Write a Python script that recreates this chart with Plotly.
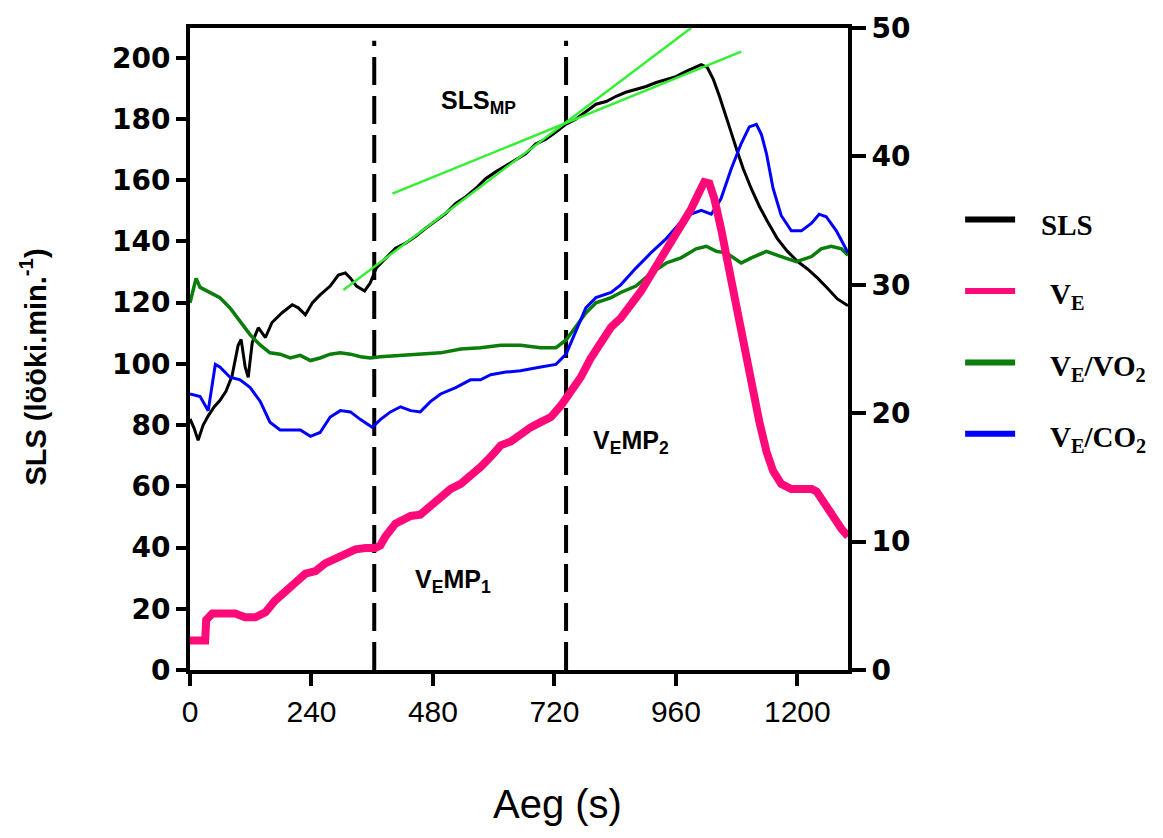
import plotly.graph_objects as go

# ---------------- data ----------------
sls_t = [0, 8, 16, 26, 36, 48, 59, 71, 83, 95, 101, 109, 115, 123, 135, 149, 162, 182, 202, 214,
         228, 242, 257, 277, 293, 307, 317, 329, 345, 356, 368, 386, 406, 426, 446, 465, 485, 505,
         525, 545, 564, 584, 604, 624, 644, 663, 683, 703, 723, 743, 762, 782, 802, 822, 842, 861,
         881, 901, 921, 941, 960, 980, 996, 1010, 1022, 1034, 1046, 1057, 1069, 1081, 1093, 1109,
         1125, 1141, 1160, 1180, 1200, 1220, 1240, 1259, 1279, 1300]
sls_v = [82, 79, 75, 80, 83, 86, 88, 91, 96, 106, 108, 99, 95.6, 107, 111.8, 108.6, 113.5, 116.7,
         119.3, 118.3, 116, 120, 122.5, 125.4, 129, 129.7, 128, 125.4, 123.8, 126.4, 131.3, 134.5,
         137.8, 139.4, 141.7, 144.2, 146.5, 149.1, 152.4, 154.6, 157.2, 160.5, 162.7, 164.7, 166.6,
         168.6, 171.8, 173.4, 175.7, 178.3, 179.9, 182.2, 184.8, 185.7, 187.4, 188.7, 189.6, 190.6,
         191.9, 192.9, 193.8, 195.5, 196.8, 197.7, 196.8, 192.9, 187.4, 181.5, 175.7, 169.5, 163.7,
         157.2, 151.4, 146.5, 141, 136.8, 133.5, 131, 128, 124.8, 121.2, 119]

ve_t = [0, 30, 32, 44, 89, 109, 129, 149, 168, 188, 208, 228, 248, 267, 287, 307, 327, 347, 366,
        376, 386, 406, 436, 455, 475, 495, 515, 535, 554, 574, 594, 614, 634, 653, 673, 693, 713,
        733, 752, 772, 792, 812, 832, 851, 871, 891, 911, 931, 950, 970, 990, 1006, 1016, 1026,
        1036, 1049, 1065, 1079, 1093, 1109, 1125, 1139, 1152, 1168, 1188, 1208, 1228, 1238, 1251,
        1267, 1287, 1300]
ve_v = [2.3, 2.3, 3.9, 4.4, 4.4, 4.1, 4.1, 4.5, 5.4, 6.2, 6.8, 7.5, 7.7, 8.3, 8.7, 9.0, 9.4, 9.5,
        9.5, 9.7, 10.4, 11.4, 12.0, 12.1, 12.8, 13.5, 14.1, 14.5, 15.1, 15.8, 16.6, 17.5, 17.8, 18.4,
        18.9, 19.3, 19.7, 20.6, 21.6, 22.8, 24.3, 25.5, 26.7, 27.4, 28.4, 29.5, 30.8, 32.1, 33.2,
        34.6, 35.9, 37.2, 38.0, 37.9, 36.7, 34.4, 31.3, 28.2, 25.5, 22.0, 19.3, 17.0, 15.5, 14.5,
        14.1, 14.1, 14.1, 13.9, 13.1, 12.0, 11.0, 10.4]

vevo2_t = [0, 12, 20, 40, 59, 79, 99, 119, 139, 158, 178, 198, 218, 238, 257, 277, 297, 317, 337,
           356, 376, 416, 455, 495, 535, 574, 614, 653, 693, 723, 743, 762, 782, 802, 832, 851, 881,
           911, 941, 970, 1000, 1020, 1040, 1059, 1089, 1109, 1139, 1168, 1198, 1228, 1247, 1267,
           1287, 1300]
vevo2_v = [28.6, 30.5, 29.8, 29.4, 29.0, 28.2, 27.2, 26.1, 25.3, 24.7, 24.6, 24.3, 24.5, 24.1,
           24.3, 24.6, 24.7, 24.6, 24.4, 24.3, 24.4, 24.5, 24.6, 24.7, 25.0, 25.1, 25.3, 25.3, 25.1,
           25.1, 25.7, 26.7, 27.8, 28.6, 29.0, 29.4, 29.9, 30.9, 31.7, 32.1, 32.8, 33.0, 32.6, 32.5,
           31.7, 32.1, 32.6, 32.2, 31.8, 32.2, 32.8, 33.0, 32.8, 32.3]

vevco2_t = [0, 20, 36, 50, 59, 79, 99, 119, 139, 158, 178, 198, 218, 238, 257, 277, 297, 317, 337,
            360, 376, 396, 416, 436, 455, 475, 495, 525, 554, 574, 594, 624, 653, 693, 723, 743,
            762, 782, 802, 832, 851, 881, 911, 941, 970, 990, 1010, 1030, 1049, 1069, 1089, 1105,
            1119, 1129, 1139, 1152, 1168, 1188, 1208, 1228, 1243, 1257, 1277, 1300]
vevco2_v = [21.5, 21.3, 20.2, 23.8, 23.6, 22.8, 22.6, 22.0, 20.9, 19.3, 18.7, 18.7, 18.7, 18.2,
            18.5, 19.7, 20.2, 20.1, 19.5, 18.9, 19.5, 20.1, 20.5, 20.2, 20.1, 20.9, 21.5, 22.0,
            22.6, 22.6, 23.0, 23.2, 23.3, 23.6, 23.8, 24.6, 26.3, 28.2, 29.0, 29.4, 30.0, 31.3,
            32.5, 33.6, 34.9, 35.5, 35.8, 35.5, 36.7, 39.0, 41.0, 42.3, 42.5, 41.7, 40.2, 37.5,
            35.4, 34.2, 34.2, 34.8, 35.5, 35.3, 34.2, 32.5]

# regression lines for SLS (start/end points)
fit1_t = [303, 990]
fit1_v = [124.1, 209.7]
fit2_t = [400, 1089]
fit2_v = [155.6, 202.0]

# breakpoints (s)
mp_times = [364, 743]

x_ticks = [0, 240, 480, 720, 960, 1200]
y_ticks = [0, 20, 40, 60, 80, 100, 120, 140, 160, 180, 200]
y2_ticks = [0, 10, 20, 30, 40, 50]

legend_names = ["SLS", "V<sub>E</sub>", "V<sub>E</sub>/VO<sub>2</sub>", "V<sub>E</sub>/CO<sub>2</sub>"]
legend_colors = ["#000000", "#ff0a78", "#0a7d0a", "#0000ff"]

# ---------------- figure ----------------
fig = go.Figure()

fig.add_trace(go.Scatter(x=vevo2_t, y=vevo2_v, yaxis="y2", mode="lines",
                         line=dict(color="#0a7d0a", width=3.5), showlegend=False))
fig.add_trace(go.Scatter(x=vevco2_t, y=vevco2_v, yaxis="y2", mode="lines",
                         line=dict(color="#0000ff", width=3), showlegend=False))
fig.add_trace(go.Scatter(x=ve_t, y=ve_v, yaxis="y2", mode="lines",
                         line=dict(color="#ff0a78", width=8), showlegend=False))
fig.add_trace(go.Scatter(x=sls_t, y=sls_v, mode="lines",
                         line=dict(color="#000000", width=3), showlegend=False))

for t in mp_times:
    fig.add_trace(go.Scatter(x=[t, t], y=[0, 205.5], mode="lines",
                             line=dict(color="#000000", width=4, dash="28px,11px"),
                             showlegend=False))

fig.add_trace(go.Scatter(x=fit1_t, y=fit1_v, mode="lines",
                         line=dict(color="#33f033", width=2.5), showlegend=False))
fig.add_trace(go.Scatter(x=fit2_t, y=fit2_v, mode="lines",
                         line=dict(color="#33f033", width=2.5), showlegend=False))

tickfont_bold = dict(family="DejaVu Sans", size=28, color="black", weight="bold")

fig.update_layout(
    width=1163, height=838,
    margin=dict(l=190, r=315, t=23, b=168),
    paper_bgcolor="white", plot_bgcolor="white",
    showlegend=False,
    xaxis=dict(range=[0, 1300], tickvals=x_ticks, ticks="outside", ticklen=12, tickwidth=4,
               tickcolor="black", showline=True, linewidth=4, linecolor="black", mirror=True,
               showgrid=False, zeroline=False,
               tickfont=dict(family="Liberation Sans", size=30, color="black")),
    yaxis=dict(range=[0, 209.7], tickvals=y_ticks, ticks="outside", ticklen=10, tickwidth=4,
               tickcolor="black", showline=True, linewidth=4, linecolor="black",
               showgrid=False, zeroline=False, tickfont=tickfont_bold),
    yaxis2=dict(range=[0, 50], tickvals=y2_ticks, overlaying="y", side="right",
                ticks="outside", ticklen=14, tickwidth=4, tickcolor="black",
                showline=True, linewidth=4, linecolor="black",
                showgrid=False, zeroline=False, tickfont=tickfont_bold),
)

annotations = [
    dict(text="SLS (lööki.min.<sup>-1</sup>)", xref="paper", yref="paper", x=-0.2386, y=0.471,
         xanchor="center", yanchor="middle", textangle=-90, showarrow=False,
         font=dict(family="Liberation Sans", size=29, color="black", weight="bold")),
    dict(text="Aeg (s)", xref="paper", yref="paper", x=0.558, y=-0.209, xanchor="center",
         yanchor="middle", showarrow=False,
         font=dict(family="Liberation Sans", size=40, color="black")),
    dict(text="SLS<sub>MP</sub>", x=570, y=185.4, xanchor="center", showarrow=False,
         font=dict(family="Liberation Sans", size=25, color="black", weight="bold")),
    dict(text="V<sub>E</sub>MP<sub>2</sub>", x=871, y=74.6, xanchor="center", showarrow=False,
         font=dict(family="Liberation Sans", size=25, color="black", weight="bold")),
    dict(text="V<sub>E</sub>MP<sub>1</sub>", x=519, y=29.2, xanchor="center", showarrow=False,
         font=dict(family="Liberation Sans", size=25, color="black", weight="bold")),
]

shapes = []
leg_line_y = [0.7017, 0.5904, 0.4791, 0.3679]
leg_text_x = [1.290, 1.304, 1.304, 1.304]
for name, col, ly, tx in zip(legend_names, legend_colors, leg_line_y, leg_text_x):
    shapes.append(dict(type="line", xref="paper", yref="paper", x0=1.178, x1=1.254, y0=ly, y1=ly,
                       line=dict(color=col, width=6)))
    annotations.append(dict(text=name, xref="paper", yref="paper", x=tx, y=ly - 0.008,
                            xanchor="left", yanchor="middle", showarrow=False,
                            font=dict(family="Liberation Serif", size=29, color="black",
                                      weight="bold")))

fig.update_layout(annotations=annotations, shapes=shapes)

fig.write_html("out.html", config={"displayModeBar": False},
               post_script="document.body.style.margin='0';document.body.style.overflow='hidden';")
